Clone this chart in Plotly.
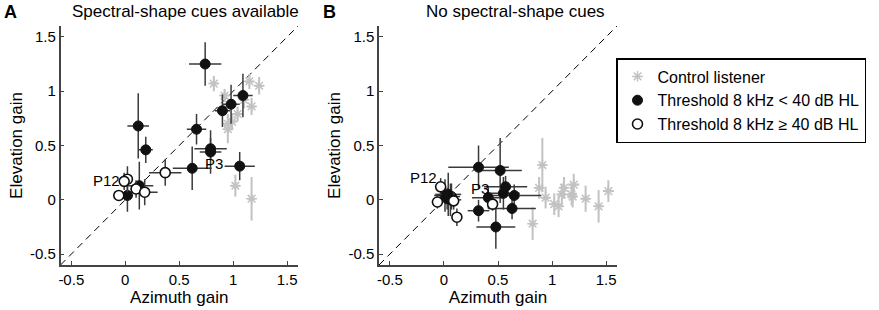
import plotly.graph_objects as go

# ---------------- data ----------------
# Panel A: spectral-shape cues available
xA_ctrl = [0.82, 0.92, 1.15, 1.24, 1.17, 1.10, 1.04, 0.99, 0.95, 0.95, 1.02, 1.17]
yA_ctrl = [1.07, 0.96, 1.09, 1.05, 0.86, 0.92, 0.79, 0.72, 0.70, 0.65, 0.13, 0.01]
xeA_ctrl = [0.04, 0.04, 0.04, 0.04, 0.04, 0.04, 0.04, 0.04, 0.04, 0.04, 0.04, 0.03]
yeA_ctrl = [0.07, 0.06, 0.07, 0.08, 0.08, 0.08, 0.07, 0.08, 0.09, 0.13, 0.10, 0.20]

xA_low = [0.74, 1.09, 0.98, 0.90, 0.66, 0.12, 0.19, 0.79, 0.79, 1.06, 0.62, 0.13, 0.02]
yA_low = [1.25, 0.96, 0.88, 0.82, 0.65, 0.68, 0.46, 0.47, 0.44, 0.31, 0.29, 0.13, 0.04]
xeA_low = [0.15, 0.09, 0.08, 0.07, 0.09, 0.10, 0.065, 0.15, 0.10, 0.14, 0.18, 0.13, 0.05]
yeA_low = [0.20, 0.20, 0.18, 0.15, 0.14, 0.30, 0.12, 0.10, 0.20, 0.13, 0.20, 0.22, 0.15]

xA_high = [0.37, 0.02, -0.01, 0.10, 0.18, -0.06]
yA_high = [0.25, 0.19, 0.17, 0.10, 0.07, 0.04]
xeA_high = [0.15, 0.03, 0.03, 0.05, 0.12, 0.03]
yeA_high = [0.12, 0.12, 0.08, 0.08, 0.12, 0.05]

# Panel B: no spectral-shape cues
xB_ctrl = [0.91, 0.82, 0.88, 0.94, 1.02, 1.06, 1.09, 1.11, 1.18, 1.19, 1.20, 1.31, 1.43, 1.52]
yB_ctrl = [0.32, -0.22, 0.11, 0.02, -0.04, -0.06, 0.05, 0.11, 0.05, 0.03, 0.14, 0.01, -0.06, 0.08]
xeB_ctrl = [0.03, 0.03, 0.04, 0.04, 0.04, 0.04, 0.04, 0.04, 0.04, 0.04, 0.05, 0.04, 0.04, 0.05]
yeB_ctrl = [0.25, 0.15, 0.10, 0.10, 0.10, 0.10, 0.10, 0.10, 0.10, 0.10, 0.10, 0.12, 0.15, 0.10]

xB_low = [0.32, 0.52, 0.57, 0.65, 0.55, 0.41, 0.63, 0.32, 0.48, 0.01, 0.04, 0.07, 0.03, 0.06]
yB_low = [0.30, 0.27, 0.12, 0.04, 0.06, 0.02, -0.08, -0.10, -0.25, 0.04, 0.05, 0.03, 0.01, 0.00]
xeB_low = [0.28, 0.20, 0.20, 0.25, 0.15, 0.15, 0.22, 0.10, 0.18, 0.10, 0.12, 0.08, 0.06, 0.10]
yeB_low = [0.20, 0.30, 0.10, 0.10, 0.15, 0.10, 0.10, 0.10, 0.20, 0.15, 0.20, 0.12, 0.10, 0.15]

xB_high = [-0.03, -0.06, 0.09, 0.12, 0.45]
yB_high = [0.12, -0.02, -0.01, -0.16, -0.04]
xeB_high = [0.03, 0.03, 0.05, 0.04, 0.05]
yeB_high = [0.08, 0.06, 0.08, 0.08, 0.06]

tick_vals = [-0.5, 0, 0.5, 1, 1.5]
tick_text = ["-0.5", "0", "0.5", "1", "1.5"]
legend_names = ["Control listener", "Threshold 8 kHz < 40 dB HL", "Threshold 8 kHz \u2265 40 dB HL"]

# ---------------- figure ----------------
FONT = "Liberation Sans, Arial, Helvetica, sans-serif"
CTRL = "#c2c2c2"
ERR = "#3a3a3a"

fig = go.Figure()

def add_panel(xa, ya, xc, yc, xec, yec, xl, yl, xel, yel, xh, yh, xeh, yeh, show):
    fig.add_trace(go.Scatter(
        x=xc, y=yc, mode="markers", name=legend_names[0], showlegend=show,
        xaxis=xa, yaxis=ya,
        marker=dict(symbol="asterisk-open", size=9, color=CTRL, line=dict(color=CTRL, width=1.5)),
        error_x=dict(type="data", array=xec, color=CTRL, thickness=2, width=0),
        error_y=dict(type="data", array=yec, color=CTRL, thickness=2, width=0),
    ))
    fig.add_trace(go.Scatter(
        x=xl, y=yl, mode="markers", name=legend_names[1], showlegend=show,
        xaxis=xa, yaxis=ya,
        marker=dict(symbol="circle", size=10, color="#111111", line=dict(color="#111111", width=1)),
        error_x=dict(type="data", array=xel, color=ERR, thickness=1.5, width=0),
        error_y=dict(type="data", array=yel, color=ERR, thickness=1.5, width=0),
    ))
    fig.add_trace(go.Scatter(
        x=xh, y=yh, mode="markers", name=legend_names[2], showlegend=show,
        xaxis=xa, yaxis=ya,
        marker=dict(symbol="circle", size=10, color="white", line=dict(color="#111111", width=1.6)),
        error_x=dict(type="data", array=xeh, color=ERR, thickness=1.5, width=0),
        error_y=dict(type="data", array=yeh, color=ERR, thickness=1.5, width=0),
    ))

add_panel("x", "y", xA_ctrl, yA_ctrl, xeA_ctrl, yeA_ctrl, xA_low, yA_low, xeA_low, yeA_low,
          xA_high, yA_high, xeA_high, yeA_high, True)
add_panel("x2", "y2", xB_ctrl, yB_ctrl, xeB_ctrl, yeB_ctrl, xB_low, yB_low, xeB_low, yeB_low,
          xB_high, yB_high, xeB_high, yeB_high, False)

W, H = 879, 310
ydom = [(H - 265) / H, (H - 26) / H]
axis_common = dict(range=[-0.6, 1.6], tickvals=tick_vals, ticktext=tick_text,
                   showline=True, linecolor="#444444", linewidth=1.5, mirror=False,
                   ticks="inside", ticklen=4, tickcolor="#444444", showgrid=False,
                   zeroline=False, automargin=False,
                   tickfont=dict(size=15, color="black", family=FONT))

fig.update_layout(
    width=W, height=H, margin=dict(l=0, r=0, t=0, b=0),
    paper_bgcolor="white", plot_bgcolor="white",
    font=dict(family=FONT, size=15, color="black"),
    xaxis=dict(domain=[60.5 / W, 298 / W], anchor="y",
               title=dict(text="Azimuth gain", standoff=2, font=dict(size=17)), **axis_common),
    yaxis=dict(domain=ydom, anchor="x",
               title=dict(text="Elevation gain", standoff=3, font=dict(size=17)), **axis_common),
    xaxis2=dict(domain=[379 / W, 617 / W], anchor="y2",
                title=dict(text="Azimuth gain", standoff=2, font=dict(size=17)), **axis_common),
    yaxis2=dict(domain=ydom, anchor="x2",
                title=dict(text="Elevation gain", standoff=3, font=dict(size=17)), **axis_common),
    legend=dict(x=616 / W, y=(H - 58) / H, xanchor="left", yanchor="top",
                bordercolor="black", borderwidth=1.5, bgcolor="white",
                font=dict(size=16, family=FONT), tracegroupgap=0, itemwidth=30),
    showlegend=True,
)

for xr, yr in [("x", "y"), ("x2", "y2")]:
    fig.add_shape(type="line", xref=xr, yref=yr, x0=-0.6, y0=-0.6, x1=1.6, y1=1.6,
                  line=dict(color="black", width=1, dash="7px,5px"), layer="below")

annots = [
    dict(text="<b>A</b>", x=2 / W, y=1 - 12 / H, xref="paper", yref="paper", xanchor="left",
         yanchor="middle", showarrow=False, font=dict(size=18)),
    dict(text="Spectral-shape cues available", x=185 / W, y=1 - 12 / H, xref="paper", yref="paper",
         xanchor="center", yanchor="middle", showarrow=False, font=dict(size=17)),
    dict(text="<b>B</b>", x=321 / W, y=1 - 12 / H, xref="paper", yref="paper", xanchor="left",
         yanchor="middle", showarrow=False, font=dict(size=18)),
    dict(text="No spectral-shape cues", x=515 / W, y=1 - 12 / H, xref="paper", yref="paper",
         xanchor="center", yanchor="middle", showarrow=False, font=dict(size=17)),
    dict(text="P12", x=-0.03, y=0.18, xref="x", yref="y", xanchor="right", yanchor="middle",
         showarrow=False, font=dict(size=15)),
    dict(text="P3", x=0.82, y=0.33, xref="x", yref="y", xanchor="center", yanchor="middle",
         showarrow=False, font=dict(size=15)),
    dict(text="P12", x=-0.05, y=0.21, xref="x2", yref="y2", xanchor="right", yanchor="middle",
         showarrow=False, font=dict(size=15)),
    dict(text="P3", x=0.33, y=0.10, xref="x2", yref="y2", xanchor="center", yanchor="middle",
         showarrow=False, font=dict(size=15)),
]
fig.update_layout(annotations=annots)

fig.write_html("out.html", config={"displayModeBar": False},
               post_script="document.body.style.margin='0px';document.body.style.padding='0px';")
